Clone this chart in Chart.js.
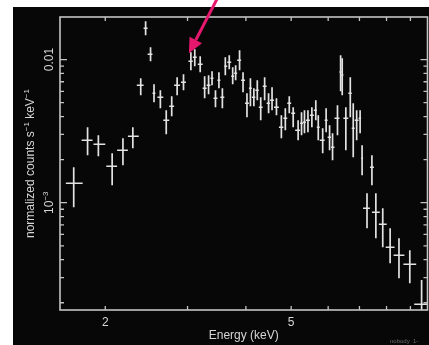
<!DOCTYPE html>
<html>
<head>
<meta charset="utf-8">
<script src="https://cdn.jsdelivr.net/npm/chart.js@4/dist/chart.umd.min.js"></script>
<style>
html,body{margin:0;padding:0;background:#fff;}
canvas{display:block;}
</style>
</head>
<body>
<canvas id="c" width="429" height="345"></canvas>
<script>
// Spectral bins: centre energy and bin edges (keV)
const energy = [1.712,1.833,1.933,2.069,2.182,2.291,2.382,2.440,2.500,2.543,
  2.624,2.701,2.775,2.850,2.941,3.050,3.109,3.193,3.264,3.328,
  3.385,3.443,3.502,3.562,3.614,3.685,3.748,3.803,3.877,3.944,
  4.021,4.090,4.160,4.231,4.303,4.387,4.473,4.550,4.650,4.764,
  4.858,4.953,5.050,5.174,5.262,5.339,5.431,5.537,5.645,5.714,
  5.840,5.940,6.042,6.131,6.282,6.380,6.430,6.546,6.691,6.789,6.905,
  7.023,7.092,7.266,7.444,7.590,7.852,8.143,8.506,8.972,9.510];
const energyLow = [1.647,1.780,1.887,2.010,2.120,2.236,2.336,2.416,2.464,2.524,
  2.586,2.662,2.741,2.808,2.905,3.013,3.079,3.155,3.232,3.296,
  3.360,3.410,3.476,3.527,3.596,3.649,3.721,3.775,3.831,3.906,
  3.982,4.060,4.119,4.190,4.262,4.345,4.430,4.506,4.594,4.707,
  4.811,4.905,5.000,5.099,5.224,5.301,5.378,5.484,5.591,5.673,
  5.756,5.897,5.984,6.086,6.190,6.343,6.405,6.467,6.626,6.739,6.838,
  6.972,7.057,7.126,7.372,7.444,7.701,7.967,8.282,8.694,9.170];
const energyHigh = [1.789,1.878,2.000,2.120,2.236,2.359,2.416,2.464,2.524,2.561,
  2.662,2.741,2.808,2.891,2.977,3.079,3.140,3.232,3.296,3.360,
  3.410,3.476,3.527,3.596,3.649,3.721,3.775,3.831,3.906,3.982,
  4.060,4.119,4.190,4.262,4.345,4.430,4.506,4.594,4.707,4.811,
  4.905,5.000,5.099,5.224,5.301,5.378,5.484,5.591,5.673,5.756,
  5.897,5.984,6.086,6.190,6.343,6.405,6.467,6.626,6.739,6.838,6.972,
  7.057,7.126,7.372,7.517,7.738,8.006,8.322,8.736,9.259,9.814];

// Normalized counts (s^-1 keV^-1) with lower / upper 1-sigma bounds
const flux = [0.001368,0.00273,0.002562,0.001798,0.00233,0.00291,0.00661,0.01654,0.01089,0.00582,
  0.00545,0.00377,0.00472,0.00661,0.00694,0.00973,0.01038,0.00927,0.0063,0.00661,
  0.0074,0.00537,0.00717,0.00545,0.00898,0.00957,0.00765,0.00802,0.00989,0.00717,
  0.00495,0.0063,0.00545,0.0061,0.00464,0.00651,0.00495,0.0052,0.00464,0.00337,
  0.00389,0.00495,0.00422,0.00321,0.00359,0.00365,0.00377,0.00408,0.00442,0.00337,
  0.00273,0.00377,0.00287,0.00244,0.00389,0.00820,0.00780,0.00389,0.00582,0.00331,0.00377,
  0.00389,0.002045,0.000915,0.00177,0.000859,0.000708,0.000489,0.00043,0.000372,0.0001956];
const fluxLow = [0.00093,0.002146,0.002112,0.001325,0.001827,0.0024,0.00563,0.01478,0.00973,0.00503,
  0.00457,0.00301,0.00402,0.00563,0.0061,0.00842,0.00898,0.00815,0.00537,0.00573,
  0.00661,0.00464,0.0063,0.00457,0.00777,0.00856,0.00672,0.00717,0.00842,0.00591,
  0.00395,0.00472,0.00472,0.0052,0.00377,0.0052,0.00422,0.00442,0.00408,0.00282,
  0.00321,0.00422,0.00337,0.00273,0.00296,0.00306,0.00311,0.00337,0.00377,0.00273,
  0.00222,0.00311,0.00233,0.00198,0.00296,0.00600,0.00563,0.00233,0.00395,0.002078,0.00273,
  0.00306,0.001556,0.000664,0.001325,0.000565,0.000489,0.000378,0.000297,0.000274,0.000151];
const fluxHigh = [0.00177,0.00337,0.00296,0.00222,0.00282,0.00337,0.0074,0.01851,0.01219,0.00672,
  0.0061,0.00442,0.00554,0.00752,0.00789,0.01124,0.0118,0.01054,0.00765,0.00777,
  0.00829,0.0061,0.00815,0.0063,0.01038,0.01072,0.00884,0.00912,0.01161,0.00815,
  0.00582,0.0074,0.0063,0.00717,0.00545,0.00752,0.00582,0.0064,0.00537,0.00408,
  0.00457,0.00554,0.00464,0.00377,0.00429,0.00442,0.00442,0.00464,0.0052,0.00408,
  0.00331,0.00457,0.00348,0.00306,0.0048,0.01072,0.01020,0.00464,0.00752,0.00495,0.00442,
  0.00442,0.00252,0.001165,0.002146,0.001165,0.000915,0.000664,0.000565,0.000466,0.000288];

// Axis ranges and tick marks
const xRange = [1.647, 9.79];
const yRange = [1.78e-4, 1.984e-2];
const xTicks = [2, 3, 4, 5, 6, 7, 8, 9];
const xTickLabels = [[2, '2'], [5, '5']];
const yMajorTicks = [0.001, 0.01];
const yMinorTicks = [0.0002,0.0003,0.0004,0.0005,0.0006,0.0007,0.0008,0.0009,
  0.002,0.003,0.004,0.005,0.006,0.007,0.008,0.009];
const xTitle = 'Energy (keV)';
// bin highlighted by the arrow
const markedBin = 15;

const FONT = '"Liberation Sans", Arial, Helvetica, sans-serif';
const FG = '#d6d6d6';

// Draw a run of text pieces (with optional superscripts) rotated to read bottom-to-top,
// centred on cy with its baseline at column bx.
function drawVertical(ctx, parts, bx, cy, size) {
  const supSize = Math.round(size * 0.68);
  let total = 0;
  parts.forEach(p => {
    ctx.font = (p.sup ? supSize : size) + 'px ' + FONT;
    p.w = ctx.measureText(p.t).width;
    total += p.w;
  });
  ctx.save();
  ctx.translate(bx, cy);
  ctx.rotate(-Math.PI / 2);
  ctx.textBaseline = 'alphabetic';
  ctx.textAlign = 'left';
  let x = -total / 2;
  parts.forEach(p => {
    ctx.font = (p.sup ? supSize : size) + 'px ' + FONT;
    ctx.fillText(p.t, x, p.sup ? -size * 0.42 : 0);
    x += p.w;
  });
  ctx.restore();
}

const spectrumPlot = {
  id: 'spectrumPlot',
  beforeDraw(chart) {
    const ctx = chart.ctx;
    ctx.save();
    ctx.fillStyle = '#ffffff';
    ctx.fillRect(0, 0, chart.width, chart.height);
    ctx.fillStyle = '#070707';
    ctx.fillRect(13, 7, chart.width - 13, chart.height - 7);
    ctx.restore();
  },
  afterDatasetsDraw(chart) {
    const ctx = chart.ctx, a = chart.chartArea;
    const xs = chart.scales.x, ys = chart.scales.y;
    ctx.save();
    ctx.beginPath();
    ctx.rect(a.left, a.top, a.right - a.left, a.bottom - a.top);
    ctx.clip();
    ctx.strokeStyle = '#e2e2e2';
    ctx.lineCap = 'butt';
    for (let i = 0; i < energy.length; i++) {
      const x = xs.getPixelForValue(energy[i]);
      const x0 = xs.getPixelForValue(energyLow[i]);
      const x1 = xs.getPixelForValue(energyHigh[i]);
      const y = ys.getPixelForValue(flux[i]);
      const y0 = ys.getPixelForValue(fluxHigh[i]);
      const y1 = ys.getPixelForValue(fluxLow[i]);
      ctx.lineWidth = 1.5;
      ctx.beginPath();
      ctx.moveTo(x0, y); ctx.lineTo(x1, y);
      ctx.stroke();
      ctx.lineWidth = 1.7;
      ctx.beginPath();
      ctx.moveTo(x, y0); ctx.lineTo(x, y1);
      ctx.stroke();
    }
    ctx.restore();
  },
  afterDraw(chart) {
    const ctx = chart.ctx, a = chart.chartArea;
    const xs = chart.scales.x, ys = chart.scales.y;
    ctx.save();
    // frame
    ctx.strokeStyle = '#c4c4c4';
    ctx.lineWidth = 1.6;
    ctx.strokeRect(a.left, a.top, a.right - a.left, a.bottom - a.top);
    // inward tick marks on all four sides
    ctx.lineWidth = 1.3;
    ctx.beginPath();
    xTicks.forEach(v => {
      const x = xs.getPixelForValue(v);
      ctx.moveTo(x, a.bottom); ctx.lineTo(x, a.bottom - 4);
      ctx.moveTo(x, a.top); ctx.lineTo(x, a.top + 4);
    });
    yMinorTicks.forEach(v => {
      const y = ys.getPixelForValue(v);
      ctx.moveTo(a.left, y); ctx.lineTo(a.left + 4, y);
      ctx.moveTo(a.right, y); ctx.lineTo(a.right - 4, y);
    });
    yMajorTicks.forEach(v => {
      const y = ys.getPixelForValue(v);
      ctx.moveTo(a.left, y); ctx.lineTo(a.left + 7, y);
      ctx.moveTo(a.right, y); ctx.lineTo(a.right - 7, y);
    });
    ctx.stroke();

    // tick labels
    ctx.fillStyle = FG;
    ctx.font = '12px ' + FONT;
    ctx.textAlign = 'center';
    ctx.textBaseline = 'alphabetic';
    xTickLabels.forEach(([v, t]) => {
      ctx.fillText(t, xs.getPixelForValue(v), a.bottom + 16);
    });
    drawVertical(ctx, [{t: '0.01'}], a.left - 7, ys.getPixelForValue(0.01), 12);
    drawVertical(ctx, [{t: '10'}, {t: '\u22123', sup: true}], a.left - 7, ys.getPixelForValue(0.001), 12);

    // axis titles
    ctx.fillStyle = FG;
    ctx.font = '12px ' + FONT;
    ctx.textAlign = 'center';
    ctx.fillText(xTitle, (a.left + a.right) / 2, a.bottom + 29);
    drawVertical(ctx, [
      {t: 'normalized counts s'}, {t: '\u22121', sup: true},
      {t: ' keV'}, {t: '\u22121', sup: true}
    ], a.left - 26, (a.top + a.bottom) / 2, 12);

    // small plot stamp
    ctx.fillStyle = '#6a6a6a';
    ctx.font = '6px ' + FONT;
    ctx.textAlign = 'left';
    ctx.fillText('nobody  1-', 390, chart.height - 2);

    // arrow pointing at the highlighted bin
    const tx = xs.getPixelForValue(energy[markedBin]) - 2;
    const ty = ys.getPixelForValue(fluxHigh[markedBin]) + 1;
    const sx = tx + 29, sy = ty - 56;
    const ang = Math.atan2(ty - sy, tx - sx);
    const headLen = 15, headW = 7;
    const bx = tx - headLen * Math.cos(ang), by = ty - headLen * Math.sin(ang);
    ctx.strokeStyle = '#e6186e';
    ctx.fillStyle = '#e6186e';
    ctx.lineWidth = 3;
    ctx.beginPath();
    ctx.moveTo(sx, sy); ctx.lineTo(bx, by);
    ctx.stroke();
    ctx.beginPath();
    ctx.moveTo(tx, ty);
    ctx.lineTo(bx + headW * Math.sin(ang), by - headW * Math.cos(ang));
    ctx.lineTo(bx - headW * Math.sin(ang), by + headW * Math.cos(ang));
    ctx.closePath();
    ctx.fill();
    ctx.restore();
  }
};

new Chart(document.getElementById('c'), {
  type: 'scatter',
  data: {
    datasets: [{
      data: energy.map((e, i) => ({x: e, y: flux[i]})),
      pointRadius: 0,
      showLine: false
    }]
  },
  options: {
    responsive: false,
    animation: false,
    devicePixelRatio: 1,
    layout: {padding: {left: 60, top: 17, right: 1.5, bottom: 35}},
    plugins: {legend: {display: false}, tooltip: {enabled: false}},
    scales: {
      x: {type: 'logarithmic', display: false, min: xRange[0], max: xRange[1]},
      y: {type: 'logarithmic', display: false, min: yRange[0], max: yRange[1]}
    }
  },
  plugins: [spectrumPlot]
});
</script>
</body>
</html>
